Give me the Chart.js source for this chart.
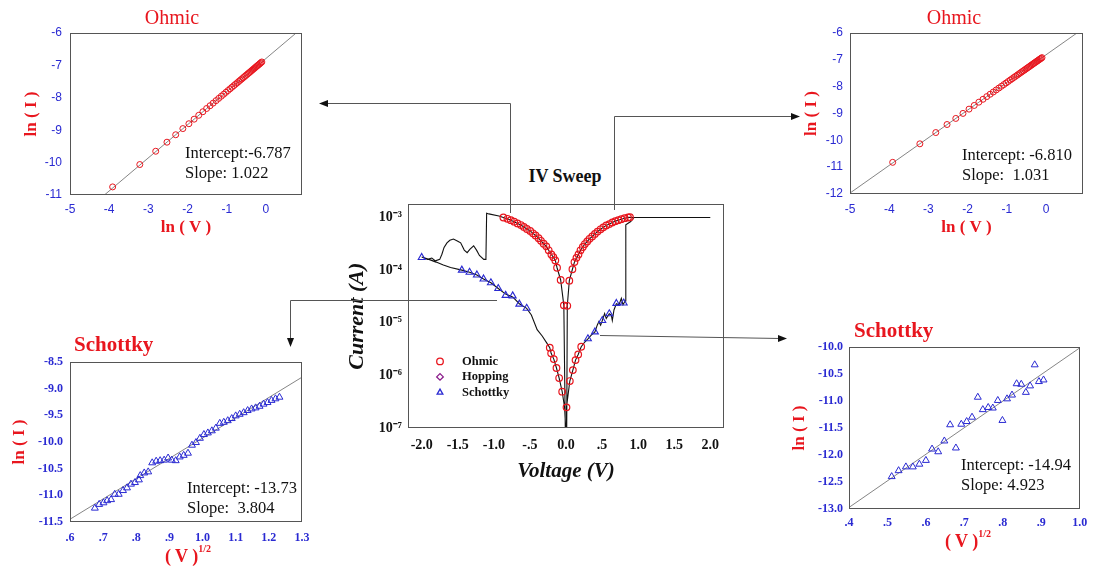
<!DOCTYPE html>
<html>
<head>
<meta charset="utf-8">
<script src="https://cdn.jsdelivr.net/npm/chart.js@4.4.1/dist/chart.umd.min.js"></script>
<style>
  body { margin: 0; background: #fff; }
  #page { position: relative; width: 1094px; height: 572px; overflow: hidden; font-family: "Liberation Serif", "Times New Roman", serif; }
  .box { position: absolute; }
  .lbl { position: absolute; white-space: pre; line-height: 1; }
  .mid { transform: translate(-50%, -50%); }
  .title { color: #e8161e; font-size: 20px; }
  .title.b { font-weight: bold; font-size: 21px; }
  .note { color: #111; font-size: 16.5px; line-height: 20px; }
  .xt { color: #e8161e; font-weight: bold; font-size: 18px; }
  .xt sup { font-size: 10px; position: relative; top: -3px; }
</style>
</head>
<body>
<div id="page">
  <div class="box" style="left:0;top:0;width:320px;height:240px"><canvas id="ohmicLeft"></canvas></div>
  <div class="box" style="left:780px;top:0;width:314px;height:240px"><canvas id="ohmicRight"></canvas></div>
  <div class="box" style="left:0;top:330px;width:320px;height:242px"><canvas id="schottkyLeft"></canvas></div>
  <div class="box" style="left:780px;top:318px;width:314px;height:254px"><canvas id="schottkyRight"></canvas></div>
  <div class="box" style="left:340px;top:190px;width:394px;height:300px"><canvas id="ivSweep"></canvas></div>

  <div class="lbl mid title" style="left:172px;top:17px">Ohmic</div>
  <div class="lbl mid title" style="left:954px;top:17px">Ohmic</div>
  <div class="lbl title b" style="left:74px;top:334px">Schottky</div>
  <div class="lbl title b" style="left:854px;top:320px">Schottky</div>
  <div class="lbl mid" style="left:565px;top:176px;font-weight:bold;font-size:18px;color:#111">IV Sweep</div>

  <div class="lbl note" style="left:185px;top:143px">Intercept:-6.787
Slope: 1.022</div>
  <div class="lbl note" style="left:962px;top:145px">Intercept: -6.810
Slope:  1.031</div>
  <div class="lbl note" style="left:187px;top:478px">Intercept: -13.73
Slope:  3.804</div>
  <div class="lbl note" style="left:961px;top:455px">Intercept: -14.94
Slope: 4.923</div>

  <div class="lbl mid xt" style="left:188px;top:556px">( V )<sup>1/2</sup></div>
  <div class="lbl mid xt" style="left:968px;top:541px">( V )<sup>1/2</sup></div>

  <svg width="1094" height="572" style="position:absolute;left:0;top:0;pointer-events:none">
    <g fill="none" stroke="#555" stroke-width="1">
      <polyline points="510.5,213 510.5,103.5 326,103.5"/>
      <polyline points="614.5,210 614.5,116.5 793,116.5"/>
      <polyline points="497,300.5 290.5,300.5 290.5,340"/>
      <polyline points="600,335.5 780,338.5"/>
    </g>
    <g fill="#111">
      <polygon points="319,103.5 328,100 328,107"/>
      <polygon points="800,116.5 791,113 791,120"/>
      <polygon points="290.5,347 287,338 294,338"/>
      <polygon points="787,338.5 778,335 778,342"/>
    </g>
  </svg>
</div>

<script>
// ––– Dados: painéis Ohmic (ln V x ln I) –––
const lnV = [-3.912, -3.219, -2.813, -2.526, -2.303, -2.120, -1.966, -1.833, -1.715, -1.609,
  -1.514, -1.427, -1.347, -1.273, -1.204, -1.139, -1.079, -1.022, -0.968, -0.916,
  -0.868, -0.821, -0.777, -0.734, -0.693, -0.654, -0.616, -0.580, -0.545, -0.511,
  -0.478, -0.446, -0.416, -0.386, -0.357, -0.329, -0.301, -0.274, -0.248, -0.223,
  -0.198, -0.174, -0.151, -0.128, -0.105];
const lnI_ohmicLeft = [-10.75, -10.06, -9.65, -9.37, -9.14, -8.95, -8.80, -8.66, -8.54, -8.43,
  -8.33, -8.245, -8.164, -8.088, -8.017, -7.951, -7.890, -7.831, -7.776, -7.723,
  -7.674, -7.626, -7.581, -7.537, -7.495, -7.455, -7.417, -7.380, -7.344, -7.309,
  -7.276, -7.243, -7.212, -7.182, -7.152, -7.123, -7.095, -7.067, -7.040, -7.015,
  -6.989, -6.965, -6.941, -6.918, -6.894];
const lnI_ohmicRight = [-10.82, -10.13, -9.71, -9.41, -9.184, -8.996, -8.837, -8.700, -8.578, -8.469,
  -8.371, -8.281, -8.199, -8.122, -8.051, -7.984, -7.922, -7.864, -7.808, -7.754,
  -7.705, -7.656, -7.611, -7.567, -7.524, -7.484, -7.445, -7.408, -7.372, -7.337,
  -7.303, -7.270, -7.239, -7.208, -7.178, -7.149, -7.120, -7.092, -7.066, -7.040,
  -7.014, -6.989, -6.966, -6.942, -6.918];
const fitOhmicLeftX = [-5, 1];
const fitOhmicLeftY = [-11.897, -5.765];
const fitOhmicRightX = [-5, 1];
const fitOhmicRightY = [-11.965, -5.779];

// ––– Dados: painéis Schottky (V^1/2 x ln I) –––
const sqrtV_left = [0.675, 0.688, 0.701, 0.712, 0.724, 0.735, 0.747, 0.760, 0.772, 0.784,
  0.796, 0.808, 0.812, 0.824, 0.836, 0.848, 0.860, 0.872, 0.884, 0.896,
  0.907, 0.919, 0.931, 0.943, 0.956, 0.968, 0.980, 0.992, 1.004, 1.016,
  1.028, 1.040, 1.052, 1.064, 1.076, 1.088, 1.100, 1.112, 1.124, 1.136,
  1.148, 1.160, 1.172, 1.184, 1.196, 1.208, 1.220, 1.232];
const lnI_schottkyLeft = [-11.24, -11.17, -11.14, -11.10, -11.08, -10.98, -10.98, -10.91, -10.86, -10.79,
  -10.76, -10.71, -10.63, -10.58, -10.56, -10.39, -10.36, -10.35, -10.34, -10.30,
  -10.34, -10.35, -10.28, -10.25, -10.21, -10.06, -10.01, -9.93, -9.86, -9.83,
  -9.79, -9.74, -9.65, -9.63, -9.60, -9.56, -9.51, -9.48, -9.45, -9.41,
  -9.38, -9.36, -9.33, -9.29, -9.26, -9.22, -9.19, -9.16];
const sqrtV_right = [0.511, 0.529, 0.548, 0.566, 0.583, 0.600, 0.616, 0.632, 0.648, 0.663,
  0.678, 0.692, 0.706, 0.720, 0.735, 0.748, 0.762, 0.774, 0.787, 0.799,
  0.811, 0.824, 0.836, 0.848, 0.860, 0.871, 0.883, 0.894, 0.906];
const lnI_schottkyRight = [-12.40, -12.29, -12.22, -12.22, -12.17, -12.10, -11.89, -11.94, -11.74, -11.44,
  -11.87, -11.43, -11.38, -11.30, -10.93, -11.16, -11.12, -11.13, -10.99, -11.36,
  -10.96, -10.89, -10.68, -10.69, -10.84, -10.72, -10.33, -10.64, -10.61];
const fitSchottkyLeftX = [0.6, 1.3];
const fitSchottkyLeftY = [-11.448, -8.785];
const fitSchottkyRightX = [0.4, 1.0];
const fitSchottkyRightY = [-12.971, -10.017];

// ––– Dados: IV Sweep (varredura completa) –––
const sweepV = [
  0.005, 0.007, 0.053, 0.095, 0.132, 0.169, 0.211, 0.26, 0.304, 0.35, 0.401, 0.433, 0.456, 0.48, 0.503,
  0.535, 0.558, 0.6, 0.628, 0.642, 0.665, 0.698, 0.735, 0.767, 0.79, 0.813, 0.827, 0.829, 0.897, 0.943, 2.0,
  0.943, 0.887, 0.860, 0.813, 0.767, 0.726, 0.684, 0.642, 0.600, 0.558, 0.517, 0.479, 0.437, 0.400,
  0.363, 0.326, 0.294, 0.261, 0.233, 0.201, 0.173, 0.145, 0.117, 0.089, 0.046, 0.018, 0.01,
  -0.01, -0.030, -0.074, -0.124, -0.148, -0.175, -0.203, -0.240, -0.273, -0.310, -0.347, -0.380, -0.422,
  -0.458, -0.496, -0.542, -0.584, -0.625, -0.672, -0.719, -0.765, -0.812, -0.868, -0.93, -1.07, -1.10,
  -1.11, -1.14, -1.20, -1.24, -1.28, -1.33, -1.37, -1.41, -1.46, -1.50, -1.56, -1.61, -1.65, -1.69,
  -1.72, -1.75, -1.81, -1.86, -1.92, -2.0,
  -1.9, -1.8, -1.7, -1.6, -1.444, -1.337, -1.235, -1.143, -1.041, -0.939, -0.837, -0.739, -0.647,
  -0.545, -0.48, -0.40, -0.33, -0.27, -0.225, -0.206, -0.169, -0.132, -0.095, -0.053, -0.02, -0.005];
const sweepI = [
  1e-7, 2.5e-7, 7.8e-7, 1.26e-6, 1.95e-6, 2.5e-6, 3.5e-6, 4.3e-6, 4.95e-6, 5.8e-6, 6.7e-6, 9e-6, 1.05e-5, 9e-6, 1.1e-5,
  1.5e-5, 1.2e-5, 1.48e-5, 1.4e-5, 1.1e-5, 1.75e-5, 2.3e-5, 2.2e-5, 2.9e-5, 2.2e-5, 2.5e-5, 2.6e-5, 7.3e-4, 8.4e-4, 1e-3, 1e-3,
  1e-3, 1.01e-3, 1.0e-3, 9.7e-4, 9.3e-4, 8.9e-4, 8.53e-4, 8.07e-4, 7.5e-4, 7.08e-4, 6.5e-4, 5.97e-4, 5.4e-4, 4.88e-4,
  4.36e-4, 3.94e-4, 3.51e-4, 3.13e-4, 2.75e-4, 2.38e-4, 1.98e-4, 1.71e-4, 1.42e-4, 1.04e-4, 6.3e-5, 2.1e-5, 1e-7,
  1e-7, 2.14e-5, 6.5e-5, 1.11e-4, 1.53e-4, 1.76e-4, 1.98e-4, 2.38e-4, 2.83e-4, 3.17e-4, 3.61e-4, 4.05e-4, 4.55e-4,
  5.01e-4, 5.56e-4, 6.05e-4, 6.61e-4, 7.19e-4, 7.73e-4, 8.32e-4, 8.91e-4, 9.44e-4, 1.0e-3, 1.07e-3, 1.17e-3, 1.2e-3,
  1.6e-4, 1.6e-4, 1.9e-4, 2.4e-4, 2.9e-4, 2.5e-4, 2.15e-4, 2.4e-4, 3.3e-4, 3.55e-4, 3.9e-4, 3.7e-4, 3.3e-4, 2.7e-4,
  2.0e-4, 1.6e-4, 1.5e-4, 1.7e-4, 1.6e-4, 1.78e-4,
  1.6e-4, 1.42e-4, 1.25e-4, 1.12e-4, 1.0e-4, 9.1e-5, 8.1e-5, 6.8e-5, 5.75e-5, 4.47e-5, 3.5e-5, 3.1e-5, 2.3e-5,
  1.88e-5, 1.4e-5, 7.4e-6, 5.6e-6, 4.2e-6, 3.36e-6, 2.63e-6, 2.04e-6, 1.38e-6, 8.9e-7, 4.9e-7, 2.5e-7, 1e-7];
const ohmicIV_V = [-0.868, -0.812, -0.765, -0.719, -0.672, -0.625, -0.584, -0.542, -0.496, -0.458,
  -0.422, -0.380, -0.347, -0.310, -0.273, -0.240, -0.203, -0.175, -0.148, -0.124, -0.074, -0.030,
  0.018, 0.046, 0.089, 0.117, 0.145, 0.173, 0.201, 0.233, 0.261, 0.294, 0.326, 0.363, 0.400,
  0.437, 0.479, 0.517, 0.558, 0.600, 0.642, 0.684, 0.726, 0.767, 0.813, 0.860, 0.887,
  -0.225, -0.206, -0.169, -0.132, -0.095, -0.053, 0.007, 0.053, 0.095, 0.132, 0.169, 0.211];
const ohmicIV_I = [1.0e-3, 9.44e-4, 8.91e-4, 8.32e-4, 7.73e-4, 7.19e-4, 6.61e-4, 6.05e-4, 5.56e-4, 5.01e-4,
  4.55e-4, 4.05e-4, 3.61e-4, 3.17e-4, 2.83e-4, 2.38e-4, 1.98e-4, 1.76e-4, 1.53e-4, 1.11e-4, 6.5e-5, 2.14e-5,
  2.1e-5, 6.3e-5, 1.04e-4, 1.42e-4, 1.71e-4, 1.98e-4, 2.38e-4, 2.75e-4, 3.13e-4, 3.51e-4, 3.94e-4, 4.36e-4, 4.88e-4,
  5.4e-4, 5.97e-4, 6.5e-4, 7.08e-4, 7.5e-4, 8.07e-4, 8.53e-4, 8.9e-4, 9.3e-4, 9.7e-4, 1.0e-3, 1.01e-3,
  3.36e-6, 2.63e-6, 2.04e-6, 1.38e-6, 8.9e-7, 4.9e-7, 2.47e-7, 7.8e-7, 1.26e-6, 1.95e-6, 2.5e-6, 3.5e-6];
const schottkyIV_V = [-2.0, -1.444, -1.337, -1.235, -1.143, -1.041, -0.939, -0.837, -0.739, -0.647, -0.545,
  0.304, 0.401, 0.503, 0.600, 0.698, 0.800];
const schottkyIV_I = [1.74e-4, 1.0e-4, 9.1e-5, 8.1e-5, 6.8e-5, 5.75e-5, 4.47e-5, 3.31e-5, 3.24e-5, 2.26e-5, 1.88e-5,
  4.95e-6, 6.7e-6, 1.1e-5, 1.48e-5, 2.33e-5, 2.37e-5];

// ––– Ticks –––
const ticksLnV = [-5, -4, -3, -2, -1, 0];
const labelsLnV = ["-5", "-4", "-3", "-2", "-1", "0"];
const ticksLnI_left = [-6, -7, -8, -9, -10, -11];
const labelsLnI_left = ["-6", "-7", "-8", "-9", "-10", "-11"];
const ticksLnI_right = [-6, -7, -8, -9, -10, -11, -12];
const labelsLnI_right = ["-6", "-7", "-8", "-9", "-10", "-11", "-12"];
const ticksSqrt_left = [0.6, 0.7, 0.8, 0.9, 1.0, 1.1, 1.2, 1.3];
const labelsSqrt_left = [".6", ".7", ".8", ".9", "1.0", "1.1", "1.2", "1.3"];
const ticksSch_left = [-8.5, -9.0, -9.5, -10.0, -10.5, -11.0, -11.5];
const labelsSch_left = ["-8.5", "-9.0", "-9.5", "-10.0", "-10.5", "-11.0", "-11.5"];
const ticksSqrt_right = [0.4, 0.5, 0.6, 0.7, 0.8, 0.9, 1.0];
const labelsSqrt_right = [".4", ".5", ".6", ".7", ".8", ".9", "1.0"];
const ticksSch_right = [-10.0, -10.5, -11.0, -11.5, -12.0, -12.5, -13.0];
const labelsSch_right = ["-10.0", "-10.5", "-11.0", "-11.5", "-12.0", "-12.5", "-13.0"];
const ticksVolt = [-2.0, -1.5, -1.0, -0.5, 0.0, 0.5, 1.0, 1.5, 2.0];
const labelsVolt = ["-2.0", "-1.5", "-1.0", "-.5", "0.0", ".5", "1.0", "1.5", "2.0"];
const ticksCurrent = [1e-7, 1e-6, 1e-5, 1e-4, 1e-3];
const labelsCurrent = ["10\u207B\u2077", "10\u207B\u2076", "10\u207B\u2075", "10\u207B\u2074", "10\u207B\u00B3"];

const RED = "#e8161e";
const BLUE = "#2a2ad2";
const SERIF = "'Liberation Serif', 'Times New Roman', serif";
const SANS = "'Liberation Sans', Arial, sans-serif";

function toPoints(xs, ys) {
  return xs.map((x, i) => ({ x: x, y: ys[i] }));
}

// moldura em volta da área do gráfico
const frame = {
  id: "frame",
  afterDatasetsDraw(chart) {
    const { ctx, chartArea: a } = chart;
    ctx.save();
    ctx.strokeStyle = "#555";
    ctx.lineWidth = 1;
    ctx.strokeRect(Math.round(a.left) + 0.5, Math.round(a.top) + 0.5,
      Math.round(a.width) - 1, Math.round(a.height) - 1);
    ctx.restore();
  }
};

// legenda dentro do gráfico central
const insideLegend = {
  id: "insideLegend",
  afterDraw(chart, args, opts) {
    if (!opts.show) return;
    const { ctx, chartArea } = chart;
    let y = chartArea.top + opts.top;
    ctx.save();
    chart.data.datasets.forEach(ds => {
      if (!ds.label) return;
      ctx.fillStyle = "rgba(0,0,0,0)";
      ctx.strokeStyle = ds.borderColor;
      ctx.lineWidth = 1.3;
      Chart.helpers.drawPoint(ctx, { pointStyle: ds.pointStyle, radius: 3.3, borderWidth: 1.3, rotation: 0 },
        chartArea.left + opts.left, y);
      ctx.fillStyle = "#111";
      ctx.font = "bold 12.5px " + SERIF;
      ctx.textBaseline = "middle";
      ctx.fillText(ds.label, chartArea.left + opts.left + opts.gap, y);
      y += opts.step;
    });
    ctx.restore();
  }
};
Chart.register(frame, insideLegend);

function axis(p) {
  return {
    type: p.type || "linear",
    min: p.min,
    max: p.max,
    afterBuildTicks: s => { s.ticks = p.ticks.map(v => ({ value: v })); },
    afterFit: s => { if (p.width) s.width = p.width; if (p.height) s.height = p.height; },
    grid: { display: false, drawTicks: false },
    border: { display: false },
    ticks: {
      autoSkip: false, maxRotation: 0, minRotation: 0,
      padding: p.tickPad, color: p.tickColor, font: p.tickFont,
      callback: (v, i) => p.labels[i]
    },
    title: p.title ? {
      display: true, text: p.title, color: p.titleColor || RED,
      font: p.titleFont || { family: SERIF, size: 17, weight: "bold" },
      padding: p.titlePad
    } : { display: false }
  };
}

function fitPanel(id, p) {
  return new Chart(document.getElementById(id), {
    type: "scatter",
    data: {
      datasets: [
        {
          data: toPoints(p.xs, p.ys),
          pointStyle: p.marker, pointRadius: p.marker === "triangle" ? 4 : 3,
          borderColor: p.markerColor, backgroundColor: "rgba(0,0,0,0)", borderWidth: 1
        },
        {
          data: toPoints(p.fitX, p.fitY), showLine: true, pointRadius: 0,
          borderColor: "#666", borderWidth: 0.8
        }
      ]
    },
    options: {
      responsive: true, maintainAspectRatio: false, animation: false, events: [],
      layout: { padding: p.pad },
      plugins: { legend: { display: false }, tooltip: { enabled: false } },
      scales: { x: axis(p.x), y: axis(p.y) }
    }
  });
}

document.addEventListener("DOMContentLoaded", () => {
  const sansTicks = { family: SANS, size: 12 };
  const serifTicks = { family: SERIF, size: 12, weight: "bold" };

  // Ohmic esquerdo
  fitPanel("ohmicLeft", {
    xs: lnV, ys: lnI_ohmicLeft, fitX: fitOhmicLeftX, fitY: fitOhmicLeftY,
    marker: "circle", markerColor: RED,
    pad: { left: 0, top: 33, right: 18, bottom: 0 },
    x: { min: -5, max: 0.92, ticks: ticksLnV, labels: labelsLnV, height: 45, tickPad: 7.8,
         tickColor: BLUE, tickFont: sansTicks, title: "ln ( V )", titlePad: { top: 0, bottom: 1.8 } },
    y: { min: -11, max: -6, ticks: ticksLnI_left, labels: labelsLnI_left, width: 70, tickPad: 8,
         tickColor: BLUE, tickFont: sansTicks, title: "ln ( I )", titlePad: { top: 21.8, bottom: 0 } }
  });

  // Ohmic direito
  fitPanel("ohmicRight", {
    xs: lnV, ys: lnI_ohmicRight, fitX: fitOhmicRightX, fitY: fitOhmicRightY,
    marker: "circle", markerColor: RED,
    pad: { left: 0, top: 33, right: 11, bottom: 0 },
    x: { min: -5, max: 0.94, ticks: ticksLnV, labels: labelsLnV, height: 46, tickPad: 8.8,
         tickColor: BLUE, tickFont: sansTicks, title: "ln ( V )", titlePad: { top: 0, bottom: 1.8 } },
    y: { min: -12, max: -6, ticks: ticksLnI_right, labels: labelsLnI_right, width: 70, tickPad: 7,
         tickColor: BLUE, tickFont: sansTicks, title: "ln ( I )", titlePad: { top: 21.8, bottom: 0 } }
  });

  // Schottky esquerdo
  fitPanel("schottkyLeft", {
    xs: sqrtV_left, ys: lnI_schottkyLeft, fitX: fitSchottkyLeftX, fitY: fitSchottkyLeftY,
    marker: "triangle", markerColor: BLUE,
    pad: { left: 0, top: 32, right: 18, bottom: 0 },
    x: { min: 0.6, max: 1.3, ticks: ticksSqrt_left, labels: labelsSqrt_left, height: 50, tickPad: 8.8,
         tickColor: BLUE, tickFont: serifTicks },
    y: { min: -11.5, max: -8.5, ticks: ticksSch_left, labels: labelsSch_left, width: 70, tickPad: 7,
         tickColor: BLUE, tickFont: serifTicks, title: "ln ( I )", titlePad: { top: 9.8, bottom: 0 } }
  });

  // Schottky direito
  fitPanel("schottkyRight", {
    xs: sqrtV_right, ys: lnI_schottkyRight, fitX: fitSchottkyRightX, fitY: fitSchottkyRightY,
    marker: "triangle", markerColor: BLUE,
    pad: { left: 0, top: 29, right: 12, bottom: 0 },
    x: { min: 0.4, max: 1.0, ticks: ticksSqrt_right, labels: labelsSqrt_right, height: 63, tickPad: 6.8,
         tickColor: BLUE, tickFont: serifTicks },
    y: { min: -13, max: -10, ticks: ticksSch_right, labels: labelsSch_right, width: 69, tickPad: 6,
         tickColor: BLUE, tickFont: serifTicks, title: "ln ( I )", titlePad: { top: 9.8, bottom: 0 } }
  });

  // IV Sweep (centro)
  const centerTicks = { family: SERIF, size: 14, weight: "bold" };
  new Chart(document.getElementById("ivSweep"), {
    type: "scatter",
    data: {
      datasets: [
        {
          label: "Ohmic", data: toPoints(ohmicIV_V, ohmicIV_I),
          pointStyle: "circle", pointRadius: 3.3, borderWidth: 1.2,
          borderColor: RED, backgroundColor: "rgba(0,0,0,0)"
        },
        {
          label: "Hopping", data: [],
          pointStyle: "rectRot", pointRadius: 3.5, borderWidth: 1.2,
          borderColor: "#8a1a8a", backgroundColor: "rgba(0,0,0,0)"
        },
        {
          label: "Schottky", data: toPoints(schottkyIV_V, schottkyIV_I),
          pointStyle: "triangle", pointRadius: 4, borderWidth: 1.1,
          borderColor: BLUE, backgroundColor: "rgba(0,0,0,0)"
        },
        {
          data: toPoints(sweepV, sweepI), showLine: true, pointRadius: 0,
          borderColor: "#111", borderWidth: 1.1, tension: 0
        }
      ]
    },
    options: {
      responsive: true, maintainAspectRatio: false, animation: false, events: [],
      layout: { padding: { left: 0, top: 11, right: 10, bottom: 0 } },
      plugins: {
        legend: { display: false }, tooltip: { enabled: false },
        insideLegend: { show: true, left: 32, top: 157, step: 15.5, gap: 22 }
      },
      scales: {
        x: axis({ min: -2.19, max: 2.19, ticks: ticksVolt, labels: labelsVolt, height: 62, tickPad: 8.6,
                  tickColor: "#111", tickFont: centerTicks, title: "Voltage (V)", titleColor: "#111",
                  titleFont: { family: SERIF, size: 21, weight: "bold", style: "italic" },
                  titlePad: { top: 0, bottom: 5.4 } }),
        y: axis({ type: "logarithmic", min: 1e-7, max: 1.774e-3, ticks: ticksCurrent, labels: labelsCurrent,
                  width: 68, tickPad: 6, tickColor: "#111", tickFont: centerTicks,
                  title: "Current (A)", titleColor: "#111",
                  titleFont: { family: SERIF, size: 22, weight: "bold", style: "italic" },
                  titlePad: { top: 3.8, bottom: 0 } })
      }
    }
  });
});
</script>
</body>
</html>
